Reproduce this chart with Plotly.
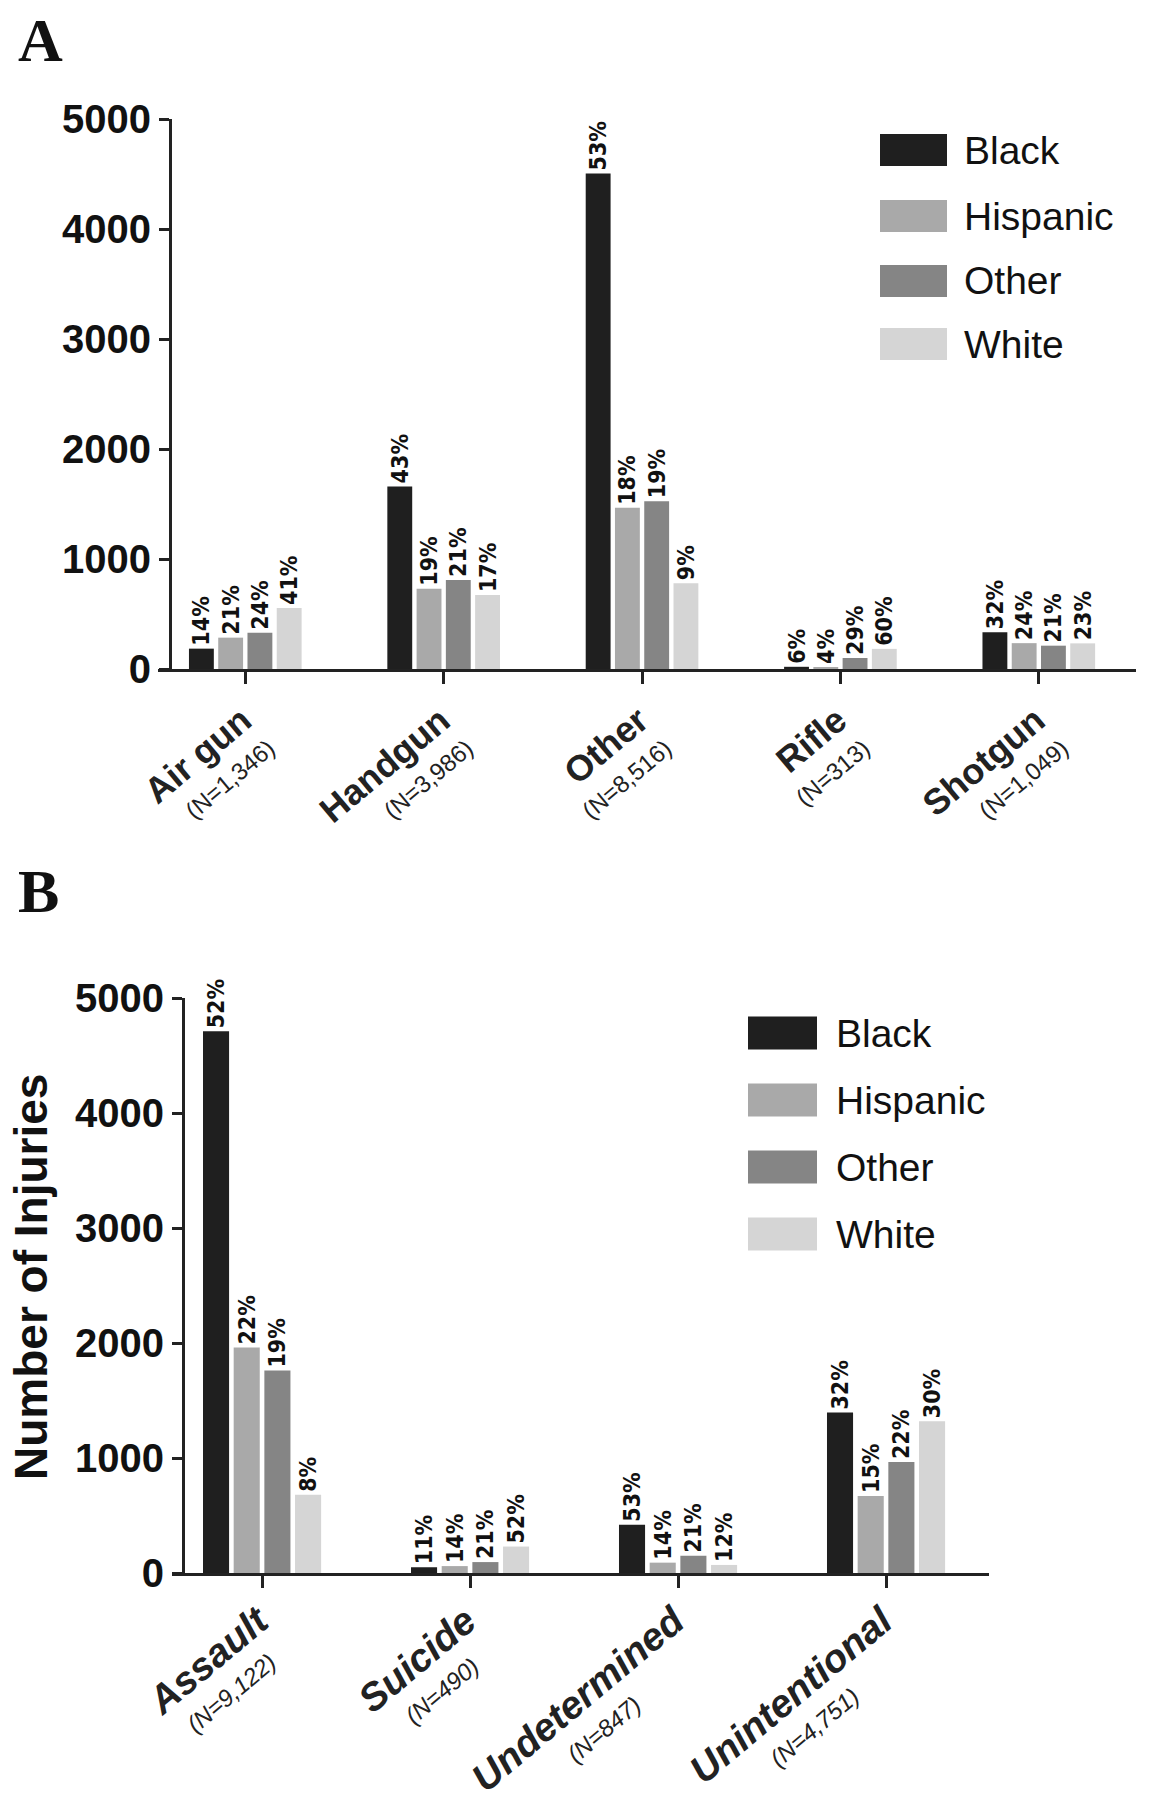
import plotly.graph_objects as go

W, H = 1150, 1800

# ---------------- data ----------------
races = ["Black", "Hispanic", "Other", "White"]
race_colors = ["#1f1f1f", "#a9a9a9", "#858585", "#d5d5d5"]

weapon_cats = ["Air gun", "Handgun", "Other", "Rifle", "Shotgun"]
weapon_n = ["1,346", "3,986", "8,516", "313", "1,049"]
weapon_black = [185, 1660, 4505, 20, 334]
weapon_hispanic = [285, 730, 1465, 13, 235]
weapon_other = [330, 810, 1525, 100, 212]
weapon_white = [555, 672, 780, 183, 233]
weapon_black_pct = ["14%", "43%", "53%", "6%", "32%"]
weapon_hispanic_pct = ["21%", "19%", "18%", "4%", "24%"]
weapon_other_pct = ["24%", "21%", "19%", "29%", "21%"]
weapon_white_pct = ["41%", "17%", "9%", "60%", "23%"]

intent_cats = ["Assault", "Suicide", "Undetermined", "Unintentional"]
intent_n = ["9,122", "490", "847", "4,751"]
intent_black = [4710, 50, 420, 1395]
intent_hispanic = [1960, 60, 90, 670]
intent_other = [1760, 95, 150, 965]
intent_white = [680, 230, 70, 1320]
intent_black_pct = ["52%", "11%", "53%", "32%"]
intent_hispanic_pct = ["22%", "14%", "14%", "15%"]
intent_other_pct = ["19%", "21%", "21%", "22%"]
intent_white_pct = ["8%", "52%", "12%", "30%"]

y_ticks = [0, 1000, 2000, 3000, 4000, 5000]

# ---------------- helpers ----------------
def px_x(v):
    return v / W

def px_y(v):
    return 1 - v / H

# approximate Arial/Liberation glyph advance widths (em) used to centre the 2nd label line
BOLD_W = {"A": .722, "s": .556, "a": .556, "u": .611, "l": .278, "t": .333, "S": .667,
          "i": .278, "c": .556, "d": .611, "e": .556, "U": .722, "n": .611, "r": .389,
          "m": .889, "o": .611}
REG_W = {"(": .333, ")": .333, "N": .722, "=": .584, ",": .278}

def text_w(s, table, size, default=.556):
    return sum(table.get(ch, default) for ch in s) * size

LABEL_FONT = dict(family="DejaVu Sans Condensed", size=23, color="#111", weight="bold")

fig = go.Figure()

weapon_vals = [weapon_black, weapon_hispanic, weapon_other, weapon_white]
weapon_pcts = [weapon_black_pct, weapon_hispanic_pct, weapon_other_pct, weapon_white_pct]
for race, col, vals, pcts in zip(races, race_colors, weapon_vals, weapon_pcts):
    fig.add_trace(go.Bar(
        x=weapon_cats, y=vals, name=race, marker=dict(color=col, line=dict(width=0)),
        text=pcts, textposition="outside", textangle=-90, textfont=LABEL_FONT,
        constraintext="none", cliponaxis=False, showlegend=False,
        xaxis="x", yaxis="y", offsetgroup=race,
    ))

intent_vals = [intent_black, intent_hispanic, intent_other, intent_white]
intent_pcts = [intent_black_pct, intent_hispanic_pct, intent_other_pct, intent_white_pct]
for race, col, vals, pcts in zip(races, race_colors, intent_vals, intent_pcts):
    fig.add_trace(go.Bar(
        x=intent_cats, y=vals, name=race, marker=dict(color=col, line=dict(width=0)),
        text=pcts, textposition="outside", textangle=-90, textfont=LABEL_FONT,
        constraintext="none", cliponaxis=False, showlegend=False,
        xaxis="x2", yaxis="y2", offsetgroup=race,
    ))

A_MAIN, B_MAIN, N_SIZE = 36, 39, 24

weapon_ticktext = [
    f"<span style='font-size:{A_MAIN}px'><b>{c}</b></span><br>"
    f"<span style='font-size:{N_SIZE}px'>(N={n})</span>"
    for c, n in zip(weapon_cats, weapon_n)
]

intent_ticktext = []
for c, n in zip(intent_cats, intent_n):
    ntxt = f"(N={n})"
    shift = (text_w(c, BOLD_W, B_MAIN) - text_w(ntxt, REG_W, N_SIZE)) / 2
    pad = "&nbsp;" * max(0, round(shift / (0.278 * N_SIZE)))
    intent_ticktext.append(
        f"<span style='font-size:{B_MAIN}px'><b><i>{c}</i></b></span><br>"
        f"<span style='font-size:{N_SIZE}px'><i>{ntxt}</i>{pad}</span>"
    )

axis_line = dict(showline=True, linecolor="#222", linewidth=3, ticks="outside",
                 tickcolor="#222", tickwidth=3, showgrid=False, zeroline=False,
                 automargin=False)

fig.update_layout(
    width=W, height=H,
    margin=dict(l=0, r=0, t=0, b=0, autoexpand=False),
    paper_bgcolor="white", plot_bgcolor="white",
    bargap=0.41, bargroupgap=0.15, barmode="group",
    font=dict(family="Liberation Sans", color="#111"),
    xaxis=dict(domain=[px_x(158), px_x(1136)], range=[-0.44, 4.49], anchor="y",
               tickvals=weapon_cats, ticktext=weapon_ticktext, tickangle=-40,
               ticklen=12, ticklabelstandoff=11,
               tickfont=dict(size=27, color="#222"), **axis_line),
    yaxis=dict(domain=[px_y(669), px_y(119)], range=[0, 5000], anchor="free",
               position=px_x(170), tickvals=y_ticks, ticklen=10,
               tickfont=dict(size=40, color="#111", weight="bold"), **axis_line),
    xaxis2=dict(domain=[px_x(172), px_x(989)], range=[-0.433, 3.495], anchor="y2",
                tickvals=intent_cats, ticktext=intent_ticktext, tickangle=-40,
                ticklen=12, ticklabelstandoff=8,
                tickfont=dict(size=27, color="#222"), **axis_line),
    yaxis2=dict(domain=[px_y(1573), px_y(998)], range=[0, 5000], anchor="free",
                position=px_x(183), tickvals=y_ticks, ticklen=10,
                tickfont=dict(size=40, color="#111", weight="bold"), **axis_line),
)

# panel letters
fig.add_annotation(text="<b>A</b>", x=px_x(40), y=px_y(40), xref="paper", yref="paper",
                   xanchor="center", yanchor="middle", showarrow=False,
                   font=dict(family="Liberation Serif", size=62, color="#111"))
fig.add_annotation(text="<b>B</b>", x=px_x(38), y=px_y(891), xref="paper", yref="paper",
                   xanchor="center", yanchor="middle", showarrow=False,
                   font=dict(family="Liberation Serif", size=62, color="#111"))

# y axis title for panel B
fig.add_annotation(text="<b>Number of Injuries</b>", x=px_x(31), y=px_y(1277),
                   xref="paper", yref="paper", xanchor="center", yanchor="middle",
                   showarrow=False, textangle=-90,
                   font=dict(family="Liberation Sans", size=46, color="#111"))

# custom legends (large swatches)
def add_legend(x_rect, w_rect, h_rect, centers, x_text, size):
    for race, col, cy in zip(races, race_colors, centers):
        fig.add_shape(type="rect", xref="paper", yref="paper",
                      x0=px_x(x_rect), x1=px_x(x_rect + w_rect),
                      y0=px_y(cy + h_rect / 2), y1=px_y(cy - h_rect / 2),
                      fillcolor=col, line=dict(width=0))
        fig.add_annotation(text=race, x=px_x(x_text), y=px_y(cy), xref="paper", yref="paper",
                           xanchor="left", yanchor="middle", showarrow=False,
                           font=dict(family="Liberation Sans", size=size, color="#111"))

add_legend(880, 67, 32, [150, 216, 281, 344], 962, 39)
add_legend(748, 69, 33, [1033, 1100, 1167, 1234], 834, 39)

fig.write_html("out.html", config={"displayModeBar": False},
               post_script="document.body.style.margin='0px';")
